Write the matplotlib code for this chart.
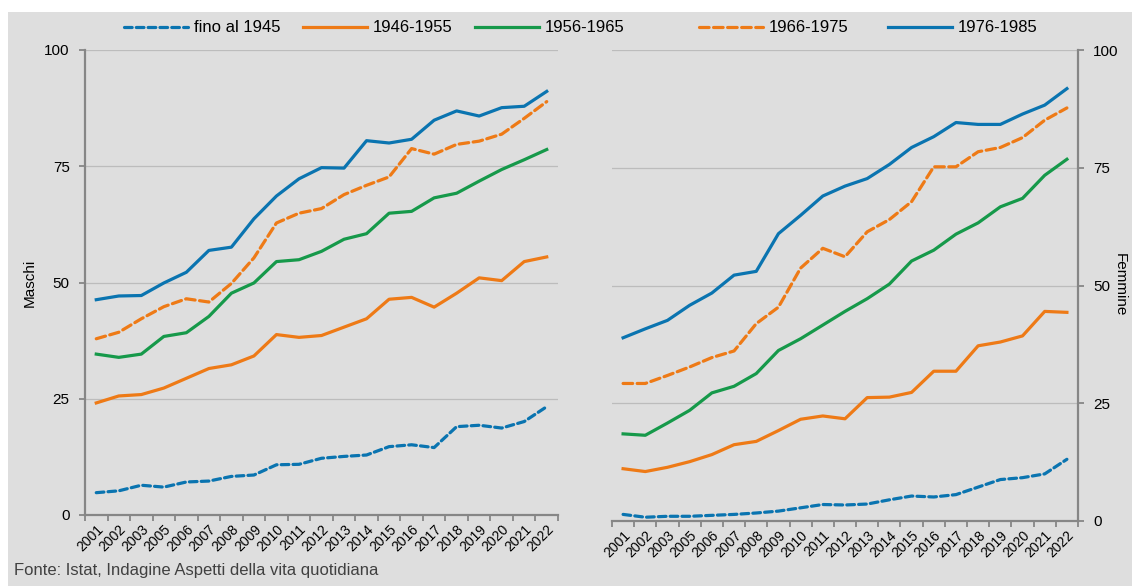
import numpy as np
import matplotlib
matplotlib.use('Agg')
import matplotlib.pyplot as plt
from matplotlib.patches import Rectangle

plt.rcParams['font.family'] = ['Liberation Sans', 'DejaVu Sans']

anni = ['2001', '2002', '2003', '2005', '2006', '2007', '2008', '2009', '2010',
        '2011', '2012', '2013', '2014', '2015', '2016', '2017', '2018', '2019',
        '2020', '2021', '2022']

coorti = ['fino al 1945', '1946-1955', '1956-1965', '1966-1975', '1976-1985']

# Maschi
m_fino1945 = [4.8, 5.2, 6.4, 6.0, 7.1, 7.3, 8.3, 8.6, 10.8, 10.9, 12.2, 12.6,
              12.9, 14.7, 15.1, 14.5, 19.0, 19.3, 18.7, 20.1, 23.3]
m_1946_55 = [24.1, 25.6, 25.9, 27.3, 29.4, 31.5, 32.3, 34.2, 38.8, 38.2, 38.6,
             40.4, 42.2, 46.4, 46.8, 44.7, 47.7, 51.0, 50.4, 54.5, 55.5]
m_1956_65 = [34.6, 33.9, 34.6, 38.4, 39.2, 42.7, 47.7, 49.9, 54.5, 54.9, 56.7,
             59.3, 60.5, 64.9, 65.3, 68.2, 69.2, 71.8, 74.3, 76.4, 78.6]
m_1966_75 = [37.9, 39.3, 42.2, 44.8, 46.5, 45.8, 49.8, 55.3, 62.8, 64.9, 65.9,
             68.9, 70.9, 72.7, 78.8, 77.6, 79.7, 80.4, 81.9, 85.3, 88.9]
m_1976_85 = [46.3, 47.1, 47.2, 49.9, 52.2, 56.9, 57.6, 63.7, 68.6, 72.3, 74.7,
             74.6, 80.5, 80.0, 80.8, 84.9, 86.9, 85.8, 87.6, 87.9, 91.1]

# Femmine
f_fino1945 = [1.4, 0.8, 1.0, 1.0, 1.2, 1.4, 1.7, 2.1, 2.8, 3.5, 3.4, 3.6, 4.5,
              5.3, 5.1, 5.6, 7.2, 8.8, 9.2, 10.0, 13.1]
f_1946_55 = [11.1, 10.5, 11.4, 12.6, 14.1, 16.2, 16.9, 19.2, 21.6, 22.3, 21.7,
             26.2, 26.3, 27.3, 31.8, 31.8, 37.2, 38.0, 39.3, 44.5, 44.3]
f_1956_65 = [18.5, 18.2, 20.8, 23.5, 27.2, 28.6, 31.3, 36.2, 38.7, 41.6, 44.5,
             47.2, 50.3, 55.2, 57.5, 60.9, 63.3, 66.7, 68.5, 73.4, 76.8]
f_1966_75 = [29.2, 29.2, 30.9, 32.7, 34.7, 36.1, 41.9, 45.4, 53.7, 57.9, 56.1,
             61.4, 64.0, 67.8, 75.2, 75.2, 78.4, 79.3, 81.4, 85.1, 87.7]
f_1976_85 = [38.9, 40.8, 42.6, 45.8, 48.4, 52.2, 53.0, 61.0, 64.9, 69.0, 71.1,
             72.7, 75.7, 79.3, 81.6, 84.6, 84.2, 84.2, 86.4, 88.3, 91.8]

BLU = '#0a74b0'
ARANCIO = '#ee7a16'
VERDE = '#16994a'
GRIGIO = '#868686'

stili = [
    dict(color=BLU, linestyle=(0, (2.4, 1.3))),
    dict(color=ARANCIO, linestyle='-'),
    dict(color=VERDE, linestyle='-'),
    dict(color=ARANCIO, linestyle=(0, (3.0, 1.4))),
    dict(color=BLU, linestyle='-'),
]

W, H = 1132, 586
fig = plt.figure(figsize=(W / 100, H / 100), dpi=100, facecolor='white')
fig.patches.append(Rectangle((8 / W, 0), 1 - 8 / W, 1 - 12 / H,
                             transform=fig.transFigure, facecolor='#dedede',
                             edgecolor='none', zorder=-10))

ax1 = fig.add_axes([85 / W, 1 - 515 / H, (558 - 85) / W, (515 - 50) / H])
ax2 = fig.add_axes([612 / W, 1 - 521 / H, (1078 - 612) / W, (521 - 50) / H])

x = np.arange(len(anni))


def disegna(ax, serie, lato):
    linee = []
    for vals, st, nome in zip(serie, stili, coorti):
        l, = ax.plot(x, vals, lw=2.3, label=nome, dash_capstyle='round', **st)
        linee.append(l)
    ax.set_facecolor('none')
    ax.set_xlim(-0.5, len(anni) - 0.5)
    ax.set_ylim(0, 100)
    ax.set_yticks([0, 25, 50, 75, 100])
    ax.grid(axis='y', color='#bcbcbc', lw=0.9)
    ax.set_axisbelow(True)
    # tacche tra gli anni, etichette al centro
    ax.set_xticks(np.arange(-0.5, len(anni), 1))
    ax.set_xticklabels([])
    ax.set_xticks(x, minor=True)
    ax.set_xticklabels(anni, minor=True, rotation=45, ha='right', va='top',
                       rotation_mode='anchor', fontsize=10)
    ax.tick_params(axis='x', which='major', length=4, color=GRIGIO, width=1.3)
    ax.tick_params(axis='x', which='minor', length=0, pad=5)
    ax.tick_params(axis='y', length=4, color=GRIGIO, width=1.3,
                   labelsize=11, pad=7)
    for s in ['top', 'left', 'right']:
        ax.spines[s].set_visible(False)
    ax.spines['bottom'].set_color(GRIGIO)
    ax.spines['bottom'].set_linewidth(1.6)
    ax.spines[lato].set_visible(True)
    ax.spines[lato].set_color(GRIGIO)
    ax.spines[lato].set_linewidth(1.6)
    if lato == 'right':
        ax.yaxis.tick_right()
    return linee


l1 = disegna(ax1, [m_fino1945, m_1946_55, m_1956_65, m_1966_75, m_1976_85], 'left')
l2 = disegna(ax2, [f_fino1945, f_1946_55, f_1956_65, f_1966_75, f_1976_85], 'right')

# titoli degli assi verticali
fig.text(30 / W, 1 - 283 / H, 'Maschi', fontsize=11, rotation=90,
         ha='center', va='center')
fig.text(1120 / W, 1 - 285 / H, 'Femmine', fontsize=11, rotation=270,
         ha='center', va='center')

opz = dict(frameon=False, loc='center left', fontsize=12, ncol=3,
           handlelength=3.85, handletextpad=0.36, columnspacing=1.32,
           borderpad=0, borderaxespad=0)
fig.legend(l1[:3], coorti[:3], bbox_to_anchor=(124 / W, 1 - 28 / H), **opz)
opz['ncol'] = 2
opz['columnspacing'] = 2.35
fig.legend(l1[3:], coorti[3:], bbox_to_anchor=(699 / W, 1 - 28 / H), **opz)

fig.text(14 / W, 1 - 571 / H, 'Fonte: Istat, Indagine Aspetti della vita quotidiana',
         fontsize=12, color='#404040', va='center', ha='left')

fig.savefig('out.png', dpi=100, facecolor=fig.get_facecolor())
